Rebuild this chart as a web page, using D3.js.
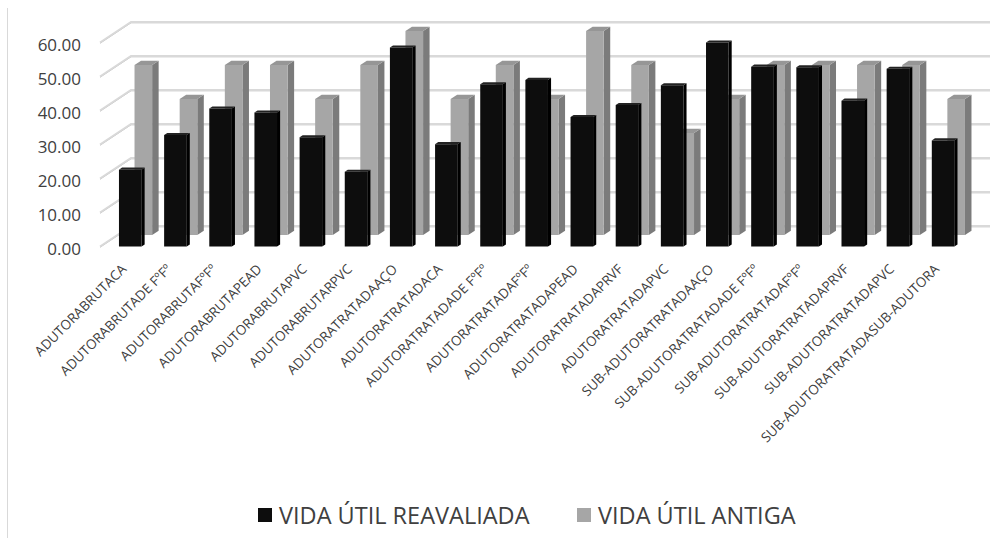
<!DOCTYPE html>
<html>
<head>
<meta charset="utf-8">
<script src="https://cdn.jsdelivr.net/npm/d3@7"></script>
<style>
  html, body { margin: 0; padding: 0; background: #fff; }
  svg { display: block; }
  text { font-family: "Open Sans", "Noto Sans", sans-serif; fill: #404040; }
</style>
</head>
<body>
<svg id="chart" width="1006" height="538"></svg>
<script>
// Asset categories (pipe type / material)
const categories = [
  "ADUTORABRUTACA",
  "ADUTORABRUTADE FºFº",
  "ADUTORABRUTAFºFº",
  "ADUTORABRUTAPEAD",
  "ADUTORABRUTAPVC",
  "ADUTORABRUTARPVC",
  "ADUTORATRATADAAÇO",
  "ADUTORATRATADACA",
  "ADUTORATRATADADE FºFº",
  "ADUTORATRATADAFºFº",
  "ADUTORATRATADAPEAD",
  "ADUTORATRATADAPRVF",
  "ADUTORATRATADAPVC",
  "SUB-ADUTORATRATADAAÇO",
  "SUB-ADUTORATRATADADE FºFº",
  "SUB-ADUTORATRATADAFºFº",
  "SUB-ADUTORATRATADAPRVF",
  "SUB-ADUTORATRATADAPVC",
  "SUB-ADUTORATRATADASUB-ADUTORA"
];

// Re-assessed useful life (years)
const vidaReavaliada = [22.6, 32.8, 40.6, 39.4, 32.1, 22.0, 58.5, 30.1, 47.7, 49.0,
                        38.1, 41.6, 47.4, 60.0, 52.9, 52.7, 42.9, 52.3, 31.2];
// Previous useful life (years)
const vidaAntiga = [50, 40, 50, 50, 40, 50, 60, 40, 50, 40,
                    60, 50, 30, 40, 50, 50, 50, 50, 40];

const yTicks = [0, 10, 20, 30, 40, 50, 60];
const seriesNames = ["VIDA ÚTIL REAVALIADA", "VIDA ÚTIL ANTIGA"];

const svg = d3.select("#chart");

// Oblique 3D projection: front plane + depth vector
const baseY = 246.5;            // front floor edge
const depth = { dx: 31, dy: -20.5 };
const x = d3.scaleBand().domain(categories).range([100, 958]);
const h = d3.scaleLinear().domain([0, 60]).range([0, 204]);

function proj(px, v, z) {
  return [px + z * depth.dx, baseY - h(v) + z * depth.dy];
}

// chart area border (left edge)
svg.append("line")
  .attr("x1", 7.5).attr("x2", 7.5).attr("y1", 8).attr("y2", 538)
  .attr("stroke", "#d9d9d9").attr("stroke-width", 1);

// back-wall gridlines with side-wall diagonals
const wallLeft = x.range()[0];
const wallRight = 990;
const grid = svg.append("g");
yTicks.forEach(t => {
  const a = proj(wallLeft, t, 0);
  const b = proj(wallLeft, t, 1);
  const pts = [a, b, [wallRight, b[1]]];
  const line = d3.line();
  grid.append("path").attr("d", line(pts.map(p => [p[0], p[1] + 0.8])))
    .attr("fill", "none").attr("stroke", "#bdbdbd").attr("stroke-width", 1);
  grid.append("path").attr("d", line(pts))
    .attr("fill", "none").attr("stroke", "#d9d9d9").attr("stroke-width", 2);
});

// draw a cuboid column
function column(g, px, w, v, z0, z1, colors) {
  const poly = pts => g.append("polygon").attr("points", pts.map(p => p.join(",")).join(" "));
  const fbl = proj(px, 0, z0), fbr = proj(px + w, 0, z0);
  const ftl = proj(px, v, z0), ftr = proj(px + w, v, z0);
  const bbr = proj(px + w, 0, z1), btr = proj(px + w, v, z1), btl = proj(px, v, z1);
  poly([fbr, bbr, btr, ftr]).attr("fill", colors.side);
  poly([ftl, ftr, btr, btl]).attr("fill", colors.top);
  poly([fbl, fbr, ftr, ftl]).attr("fill", colors.front);
}

const bw = x.bandwidth();
// back row: previous useful life
const gBack = svg.append("g");
categories.forEach((c, i) => {
  column(gBack, x(c) + bw * 0.38, bw * 0.39, vidaAntiga[i], 0.56, 0.77,
    { front: "#a6a6a6", top: "#969696", side: "#7b7b7b" });
});
// front row: re-assessed useful life
const gFront = svg.append("g");
categories.forEach((c, i) => {
  column(gFront, x(c) + bw * 0.42, bw * 0.5, vidaReavaliada[i], 0.0, 0.1,
    { front: "#0d0d0d", top: "#222222", side: "#000000" });
});

// value axis
const yAxisScale = d3.scaleLinear().domain([0, 60]).range([baseY + 2.5, baseY + 2.5 - 204]);
const yAxis = svg.append("g")
  .attr("transform", "translate(81,0)")
  .call(d3.axisLeft(yAxisScale).tickValues(yTicks).tickFormat(d3.format(".2f")).tickSize(0).tickPadding(0));
yAxis.select(".domain").remove();
yAxis.selectAll("text")
  .style("font-family", '"Open Sans", sans-serif')
  .attr("font-size", 17).attr("fill", "#404040");

// category labels
const cats = svg.append("g");
categories.forEach(c => {
  const cx = x(c) + bw * 0.42 + bw * 0.25 - 3;
  cats.append("text")
    .attr("transform", `translate(${cx},270) rotate(-45)`)
    .attr("text-anchor", "end")
    .attr("font-size", 13.5)
    .text(c);
});

// legend
const legend = svg.append("g");
const legendItems = [
  { name: seriesNames[0], color: "#0d0d0d", x: 258 },
  { name: seriesNames[1], color: "#a6a6a6", x: 577 }
];
legendItems.forEach(d => {
  legend.append("rect").attr("x", d.x).attr("y", 508).attr("width", 14).attr("height", 14).attr("fill", d.color);
  legend.append("text").attr("x", d.x + 21).attr("y", 524).attr("font-size", 23.5).text(d.name);
});
</script>
</body>
</html>
